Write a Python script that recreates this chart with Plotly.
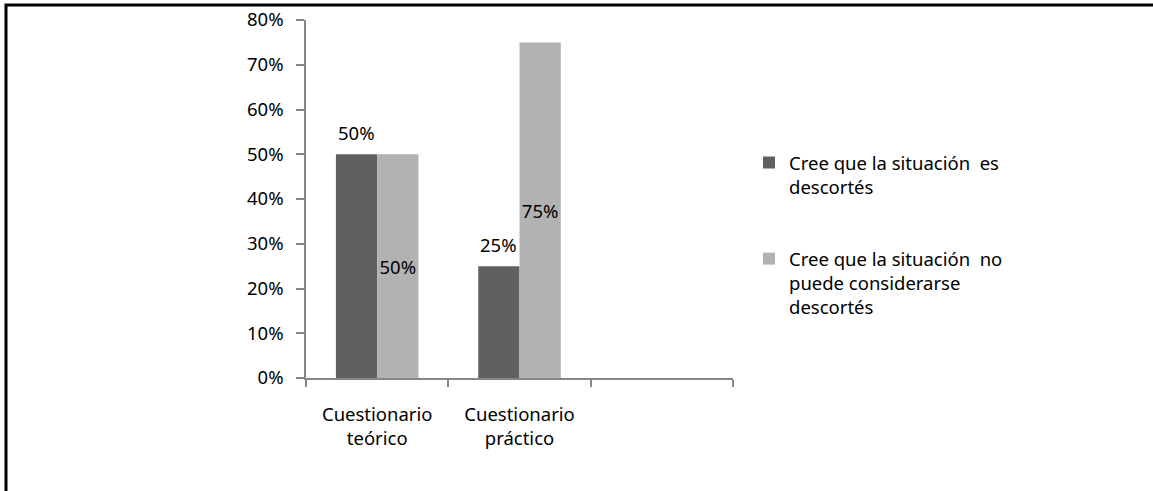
import plotly.graph_objects as go

# Survey results: share of respondents per questionnaire
categories = ["Cuestionario<br>teórico", "Cuestionario<br>práctico", " "]
es_descortes = [0.50, 0.25, None]
no_descortes = [0.50, 0.75, None]
series_names = [
    "Cree que la situación\u00a0 es<br>descortés",
    "Cree que la situación\u00a0 no<br>puede considerarse<br>descortés",
]

DARK = "#606060"
LIGHT = "#b2b2b2"
AXIS = "#868686"
FONT = dict(family="Noto Sans", size=18.5, color="#000000")

W, H = 1153, 491
M_L, M_R, M_T, M_B = 306, 420, 20, 113
plot_w = W - M_L - M_R
plot_h = H - M_T - M_B
BARGAP = 0.42
bar_px = plot_w / len(categories) * (1 - BARGAP) / 2

fig = go.Figure()
fig.add_trace(go.Bar(
    x=categories, y=es_descortes, name=series_names[0],
    marker=dict(color=DARK, line=dict(width=0)),
    legendgroup="a",
))
fig.add_trace(go.Bar(
    x=categories, y=no_descortes, name=series_names[1],
    marker=dict(color=LIGHT, line=dict(width=0)),
    text=[f"{v:.0%}" if v is not None else "" for v in no_descortes],
    textposition="inside", insidetextanchor="middle",
    textangle=0, constraintext="none",
    textfont=FONT,
    legendgroup="b",
))

# value labels above the dark bars
for cat, v in zip(categories, es_descortes):
    if v is None:
        continue
    fig.add_annotation(
        x=cat, y=v, xref="x", yref="y", text=f"{v:.0%}", showarrow=False,
        xshift=-bar_px / 2, yshift=7, yanchor="bottom",
        font=FONT,
    )

# chart frame (top and left edges visible)
fx = lambda px: (px - M_L) / plot_w
fy = lambda py: (H - M_B - py) / plot_h
fig.add_shape(
    type="rect", xref="paper", yref="paper",
    x0=fx(6), x1=fx(W + 20), y0=fy(5), y1=fy(H + 20),
    line=dict(color="#000000", width=3), fillcolor="rgba(0,0,0,0)",
)

fig.update_layout(
    width=W, height=H, autosize=False,
    margin=dict(l=M_L, r=M_R, t=M_T, b=M_B, pad=0, autoexpand=False),
    paper_bgcolor="#ffffff", plot_bgcolor="#ffffff",
    barmode="group", bargap=BARGAP, bargroupgap=0,
    font=FONT,
    showlegend=True,
    legend=dict(
        x=fx(749), xanchor="left", y=fy(144), yanchor="top",
        valign="top", tracegroupgap=45,
        font=FONT, bgcolor="rgba(0,0,0,0)", borderwidth=0,
        traceorder="grouped",
    ),
    xaxis=dict(
        type="category", categoryorder="array", categoryarray=categories,
        range=[-0.5, len(categories) - 0.5], automargin=False,
        showline=True, linecolor=AXIS, linewidth=1.5,
        ticks="outside", tickson="boundaries", ticklen=7, tickcolor=AXIS, tickwidth=1.5,
        ticklabelstandoff=19,
        showgrid=False, zeroline=False, tickfont=FONT, fixedrange=True,
    ),
    yaxis=dict(
        range=[0, 0.8], dtick=0.1, tickformat=".0%", automargin=False,
        showline=True, linecolor=AXIS, linewidth=1.5,
        ticks="outside", ticklen=8, tickcolor=AXIS, tickwidth=1.5,
        ticklabelstandoff=9,
        showgrid=False, zeroline=False, tickfont=FONT, fixedrange=True,
    ),
)

fig.write_html("out.html", config={"displayModeBar": False})
